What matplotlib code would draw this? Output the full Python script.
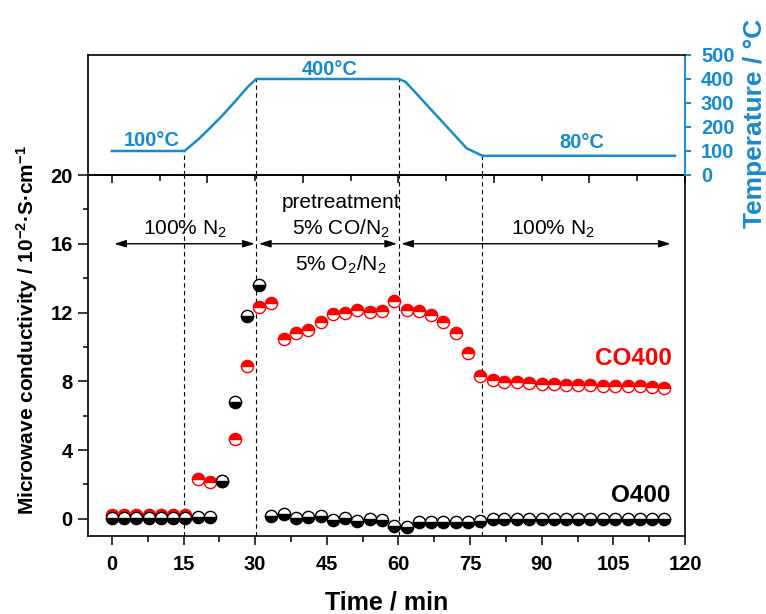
import matplotlib
matplotlib.use("Agg")
import matplotlib.pyplot as plt
from matplotlib.ticker import MultipleLocator

plt.rcParams['font.family'] = ['Liberation Sans', 'DejaVu Sans']
plt.rcParams['mathtext.fontset'] = 'custom'
plt.rcParams['mathtext.rm'] = 'Liberation Sans'
plt.rcParams['mathtext.bf'] = 'Liberation Sans:bold'
plt.rcParams['mathtext.it'] = 'Liberation Sans:italic'

# time of each microwave point (min)
time = [0, 2.6, 5.1, 7.7, 10.3, 12.9, 15.4, 18.0, 20.6, 23.1,
        25.7, 28.3, 30.8, 33.4, 36.0, 38.6, 41.1, 43.7, 46.3, 48.8,
        51.4, 54.0, 56.5, 59.1, 61.7, 64.3, 66.8, 69.4, 72.0, 74.5,
        77.1, 79.7, 82.2, 84.8, 87.4, 90.0, 92.5, 95.1, 97.7, 100.2,
        102.8, 105.4, 108.0, 110.5, 113.1, 115.7]

co400 = [0.2, 0.2, 0.2, 0.2, 0.2, 0.2, 0.2, 2.3, 2.16, 2.2,
         4.64, 8.87, 12.33, 12.58, 10.45, 10.82, 11.0, 11.46, 11.92, 11.95,
         12.12, 12.04, 12.08, 12.66, 12.16, 12.08, 11.86, 11.46, 10.82, 9.62,
         8.31, 8.06, 7.98, 7.93, 7.91, 7.87, 7.83, 7.81, 7.81, 7.79,
         7.73, 7.73, 7.71, 7.70, 7.67, 7.61]

o400 = [0.05, 0.05, 0.05, 0.05, 0.05, 0.05, 0.05, 0.1, 0.1, 2.2,
        6.82, 11.8, 13.62, 0.17, 0.27, 0.04, 0.13, 0.17, -0.06, 0.04,
        -0.15, -0.02, -0.06, -0.41, -0.45, -0.2, -0.2, -0.2, -0.2, -0.2,
        -0.1, -0.03, 0.0, 0.0, -0.02, 0.0, 0.0, 0.0, 0.0, 0.0,
        0.0, 0.0, 0.0, 0.0, 0.0, 0.0]

# temperature programme
temp_time = [0, 15.2, 17.9, 20.5, 23.0, 25.5, 28.5, 30.2, 60.1, 61.5, 74.3, 77.6, 117.9]
temp_vals = [100, 100, 145, 195, 245, 300, 368, 400, 400, 388, 111, 80, 80]

# gas switching times
switch_t = [15.2, 30.2, 60.1, 77.6]
switch_temp = [100, 400, 400, 80]

blue = '#168BCB'

fig = plt.figure(figsize=(7.66, 6.14), dpi=100)
W, H = 766, 614
ax = fig.add_axes([88 / W, 1 - 536 / H, (685 - 88) / W, (536 - 175) / H])
axt = fig.add_axes([88 / W, 1 - 175 / H, (685 - 88) / W, (175 - 55) / H])

# main panel
for x in switch_t:
    ax.axvline(x, color='black', lw=0.8, ls=(0, (4, 3)), zorder=1)

ax.plot(time, co400, ls='none', marker='o', ms=8.8, mew=1.0,
        fillstyle='top', color='red', markerfacecolor='red',
        markerfacecoloralt='white', markeredgecolor='red', zorder=3)
ax.plot(time, o400, ls='none', marker='o', ms=8.8, mew=1.0,
        fillstyle='bottom', color='black', markerfacecolor='black',
        markerfacecoloralt='white', markeredgecolor='black', zorder=4)

ax.set_xlim(-5, 120)
ax.set_ylim(-1, 20)
ax.xaxis.set_major_locator(MultipleLocator(15))
ax.xaxis.set_minor_locator(MultipleLocator(7.5))
ax.yaxis.set_major_locator(MultipleLocator(4))
ax.yaxis.set_minor_locator(MultipleLocator(2))
ax.tick_params(axis='x', which='major', direction='out', length=6.5, width=1.1,
               labelsize=14.5, pad=7)
ax.tick_params(axis='x', which='minor', direction='out', length=4, width=1.1)
ax.tick_params(axis='y', which='major', direction='out', length=7, width=1.1,
               labelsize=14.5, pad=4)
ax.tick_params(axis='y', which='minor', direction='out', length=3.6, width=1.1)
for lab in ax.get_xticklabels() + ax.get_yticklabels():
    lab.set_fontweight('bold')
for s in ax.spines.values():
    s.set_linewidth(1.2)

# ticks on the boundary between the panels
sec = ax.secondary_xaxis('top')
sec.xaxis.set_major_locator(MultipleLocator(20))
sec.xaxis.set_minor_locator(MultipleLocator(10))
sec.tick_params(which='major', direction='in', length=6, width=1.1, labeltop=False)
sec.tick_params(which='minor', direction='in', length=4, width=1.1)
sec.spines['top'].set_linewidth(1.2)

# arrows and gas labels
arrow = dict(arrowstyle='<|-|>,head_length=0.7,head_width=0.22', color='black',
             lw=1.0, shrinkA=0, shrinkB=0)
ax.annotate('', xy=(29.9, 16.0), xytext=(0.5, 16.0), arrowprops=arrow)
ax.annotate('', xy=(59.7, 16.0), xytext=(30.8, 16.0), arrowprops=arrow)
ax.annotate('', xy=(117.0, 16.0), xytext=(60.6, 16.0), arrowprops=arrow)
sub2 = r'$_{\mathrm{2}}$'
ax.text(15.2, 16.5, '100% N' + sub2, ha='center', va='baseline', fontsize=15)
ax.text(48.0, 18.1, 'pretreatment', ha='center', va='baseline', fontsize=15)
ax.text(48.0, 16.55, '5% CO/N' + sub2, ha='center', va='baseline', fontsize=15)
ax.text(48.0, 14.45, '5% O' + sub2 + '/N' + sub2, ha='center', va='baseline', fontsize=15)
ax.text(92.4, 16.5, '100% N' + sub2, ha='center', va='baseline', fontsize=15)

ax.text(117.3, 8.93, 'CO400', ha='right', va='baseline', fontsize=17.5,
        fontweight='bold', color='red')
ax.text(117.0, 1.0, 'O400', ha='right', va='baseline', fontsize=17.5,
        fontweight='bold', color='black')

# temperature panel
axt.plot(temp_time, temp_vals, color=blue, lw=1.8, zorder=3)
axt.vlines(switch_t, 0, switch_temp, color='black', lw=0.8, ls=(0, (4, 3)))
axt.set_xlim(-5, 120)
axt.set_ylim(0, 500)
axt.patch.set_alpha(0)
axt.spines['bottom'].set_visible(False)
axt.spines['left'].set_linewidth(1.2)
axt.spines['top'].set_linewidth(1.2)
axt.spines['right'].set_linewidth(1.4)
axt.spines['right'].set_color(blue)
axt.set_xticks([])
axt.yaxis.tick_right()
axt.yaxis.set_major_locator(MultipleLocator(100))
axt.tick_params(axis='y', direction='out', length=4.5, width=1.4, color=blue,
                labelcolor=blue, labelsize=14.5, pad=7)
for lab in axt.get_yticklabels():
    lab.set_fontweight('bold')

axt.text(8.4, 121, '100°C', ha='center', va='baseline', fontsize=14.5,
         fontweight='bold', color=blue)
axt.text(45.6, 417, '400°C', ha='center', va='baseline', fontsize=14.5,
         fontweight='bold', color=blue)
axt.text(98.3, 111, '80°C', ha='center', va='baseline', fontsize=14.5,
         fontweight='bold', color=blue)

# axis titles
fig.text(387 / W, 1 - 603 / H, 'Time / min', ha='center', va='center',
         fontsize=18, fontweight='bold')
fig.text(27 / W, 1 - 330 / H,
         r'Microwave conductivity / 10$^{\mathbf{-2}}$·S·cm$^{\mathbf{-1}}$',
         ha='center', va='center', rotation=90, fontsize=15, fontweight='bold')
fig.text(755 / W, 1 - 123 / H, 'Temperature / °C', ha='center', va='center',
         rotation=90, fontsize=19, fontweight='bold', color=blue)

fig.savefig('out.png', dpi=100)
